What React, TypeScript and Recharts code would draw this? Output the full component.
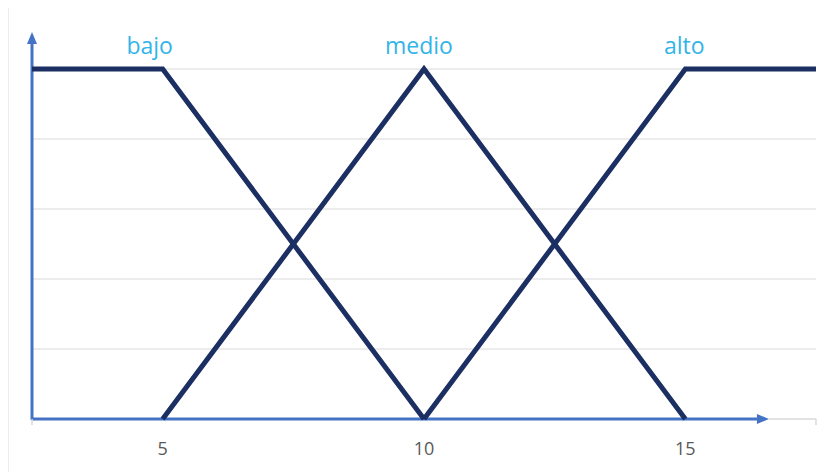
import React from "react";
import { LineChart, Line, XAxis, YAxis, CartesianGrid, ReferenceLine, ReferenceDot } from "recharts";

const bajo = [
  { x: 2.5, y: 1 },
  { x: 5, y: 1 },
  { x: 10, y: 0 },
];
const medio = [
  { x: 5, y: 0 },
  { x: 10, y: 1 },
  { x: 15, y: 0 },
];
const alto = [
  { x: 10, y: 0 },
  { x: 15, y: 1 },
  { x: 17.5, y: 1 },
];
const setLabels = [
  { name: "bajo", x: 5 },
  { name: "medio", x: 10 },
  { name: "alto", x: 15 },
];
const labelShift: Record<string, number> = { bajo: -13, medio: -5, alto: -1 };
const xTicks = [2.5, 5, 10, 15, 17.5];
const xLabelTicks = [5, 10, 15];
const yTicks = [0, 0.2, 0.4, 0.6, 0.8, 1];
const gridValues = [0.2, 0.4, 0.6, 0.8, 1];

const NAVY = "#1b2f63";
const AXIS_BLUE = "#4472c4";
const LABEL_BLUE = "#33b4e8";

const XTick = (props: any) => {
  const { x, y, payload } = props;
  const v = payload.value;
  if (xLabelTicks.includes(v)) {
    return (
      <text x={x} y={y + 28} textAnchor="middle" fill="#595959" fontSize={18} style={{ fontSize: 18, fontFamily: "Open Sans, sans-serif" }}>
        {v}
      </text>
    );
  }
  return <line x1={x} y1={y - 8} x2={x} y2={y - 2} stroke="#d9d9d9" strokeWidth={1.5} />;
};

const ArrowV = (props: any) => {
  const { x1, y1, y2 } = props;
  const top = Math.min(y1, y2);
  const bottom = Math.max(y1, y2);
  return (
    <g>
      <line x1={x1} y1={bottom + 1} x2={x1} y2={top + 8} stroke={AXIS_BLUE} strokeWidth={3} />
      <polygon points={`${x1},${top - 2} ${x1 - 5},${top + 10} ${x1 + 5},${top + 10}`} fill={AXIS_BLUE} />
    </g>
  );
};

const ArrowH = (props: any) => {
  const { x1, y1, x2 } = props;
  const left = Math.min(x1, x2);
  const right = Math.max(x1, x2);
  return (
    <g>
      <line x1={left - 1} y1={y1} x2={right - 8} y2={y1} stroke={AXIS_BLUE} strokeWidth={3} />
      <polygon points={`${right},${y1} ${right - 12},${y1 - 5} ${right - 12},${y1 + 5}`} fill={AXIS_BLUE} />
    </g>
  );
};

const GrayLine = (props: any) => {
  const { x1, y1, x2, y2 } = props;
  return <line x1={x1} y1={y1} x2={x2} y2={y2} stroke="#d9d9d9" strokeWidth={1.5} />;
};

export default function App() {
  return (
    <div style={{ borderLeft: "1px solid #ececec", width: 822, height: 464 }}>
      <LineChart width={821} height={464} margin={{ top: 26, right: 14, bottom: 23, left: 23 }}>
        <CartesianGrid vertical={false} horizontalValues={gridValues} stroke="#d9d9d9" strokeWidth={1} />
        <XAxis
          type="number"
          dataKey="x"
          domain={[2.5, 17.5]}
          ticks={xTicks}
          interval={0}
          allowDuplicatedCategory={false}
          tickLine={false}
          axisLine={false}
          tick={<XTick />}
          height={30}
        />
        <YAxis type="number" domain={[0, 1.1]} ticks={yTicks} hide />
        <ReferenceLine
          segment={[{ x: 16.6, y: 0 }, { x: 17.5, y: 0 }]}
          shape={<GrayLine />}
          ifOverflow="visible"
        />
        <ReferenceLine
          segment={[{ x: 2.5, y: 0 }, { x: 2.5, y: 1.1 }]}
          shape={<ArrowV />}
          ifOverflow="visible"
        />
        <ReferenceLine
          segment={[{ x: 2.5, y: 0 }, { x: 16.6, y: 0 }]}
          shape={<ArrowH />}
          ifOverflow="visible"
        />
        <Line data={bajo} dataKey="y" stroke={NAVY} strokeWidth={5} dot={false} isAnimationActive={false} strokeLinejoin="miter" />
        <Line data={medio} dataKey="y" stroke={NAVY} strokeWidth={5} dot={false} isAnimationActive={false} strokeLinejoin="miter" />
        <Line data={alto} dataKey="y" stroke={NAVY} strokeWidth={5} dot={false} isAnimationActive={false} strokeLinejoin="miter" />
        {setLabels.map((s) => (
          <ReferenceDot
            key={s.name}
            x={s.x}
            y={1}
            r={0}
            ifOverflow="visible"
            label={{
              value: s.name,
              position: "top",
              offset: 15,
              fill: LABEL_BLUE,
              fontSize: 23,
              style: { fontSize: 23, fontFamily: "Open Sans, sans-serif" },
              dx: labelShift[s.name],
            }}
          />
        ))}
      </LineChart>
    </div>
  );
}
